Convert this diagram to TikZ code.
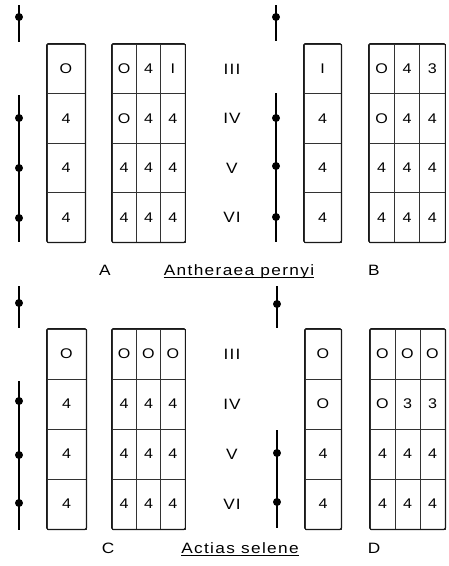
\documentclass[tikz,border=0pt]{standalone}
\usepackage{fontspec}
\setmainfont{Liberation Sans}
\newfontfamily\widefont[FakeStretch=1.15]{Liberation Sans}
\usetikzlibrary{calc}
\begin{document}
\begin{tikzpicture}[x=1pt,y=-1pt,
  cell/.style={draw=black!80, line width=0.9pt, inner sep=0pt, font=\widefont\fontsize{14}{14}\selectfont},
  outer/.style={draw=black!90, line width=1.1pt, rounded corners=1.5pt},
  axisline/.style={line width=2pt, black},
  dotnode/.style={circle, fill=black, inner sep=0pt, minimum size=8pt},
  roman/.style={font=\widefont\fontsize{15}{15}\selectfont\addfontfeature{LetterSpace=8}},
  plabel/.style={font=\widefont\fontsize{15}{15}\selectfont, anchor=base},
  species/.style={font=\widefont\fontsize{15}{15}\selectfont\addfontfeature{LetterSpace=9}, anchor=base, inner sep=0pt},
  uline/.style={line width=1pt}]
\useasboundingbox (0,0) rectangle (448,566);

% ---------- Panel A ----------
\foreach \r/\s/\a/\b/\c in {1/O/O/4/I,2/4/O/4/4,3/4/4/4/4,4/4/4/4/4}{
  \pgfmathsetmacro\yc{44+49.5*(\r-0.5)}
  \node[cell, minimum width=38pt, minimum height=49.5pt] (A-s\r) at (66,\yc) {\s};
  \node[cell, minimum width=24.33pt, minimum height=49.5pt] (A-a\r) at (124.17,\yc) {\a};
  \node[cell, minimum width=24.33pt, minimum height=49.5pt] (A-b\r) at (148.5,\yc) {\b};
  \node[cell, minimum width=24.33pt, minimum height=49.5pt] (A-c\r) at (172.83,\yc) {\c};
}
\draw[outer] (A-s1.north west) rectangle (A-s4.south east);
\draw[outer] (A-a1.north west) rectangle (A-c4.south east);
\coordinate (A-t1) at (19,5); \coordinate (A-t2) at (19,42);
\coordinate (A-m1) at (19,95); \coordinate (A-m2) at (19,242);
\draw[axisline] (A-t1) -- (A-t2);
\draw[axisline] (A-m1) -- (A-m2);
\node[dotnode] (A-d0) at (19,17) {};
\node[dotnode] (A-d1) at (19,118) {};
\node[dotnode] (A-d2) at (19,168) {};
\node[dotnode] (A-d3) at (19,218) {};

% ---------- Panel B ----------
\foreach \r/\s/\a/\b/\c in {1/I/O/4/3,2/4/O/4/4,3/4/4/4/4,4/4/4/4/4}{
  \pgfmathsetmacro\yc{44+49.5*(\r-0.5)}
  \node[cell, minimum width=37pt, minimum height=49.5pt] (B-s\r) at (322.5,\yc) {\s};
  \node[cell, minimum width=25.33pt, minimum height=49.5pt] (B-a\r) at (381.67,\yc) {\a};
  \node[cell, minimum width=25.33pt, minimum height=49.5pt] (B-b\r) at (407,\yc) {\b};
  \node[cell, minimum width=25.33pt, minimum height=49.5pt] (B-c\r) at (432.33,\yc) {\c};
}
\draw[outer] (B-s1.north west) rectangle (B-s4.south east);
\draw[outer] (B-a1.north west) rectangle (B-c4.south east);
\coordinate (B-t1) at (276,5); \coordinate (B-t2) at (276,41);
\coordinate (B-m1) at (276,93); \coordinate (B-m2) at (276,242);
\draw[axisline] (B-t1) -- (B-t2);
\draw[axisline] (B-m1) -- (B-m2);
\node[dotnode] (B-d0) at (276,17) {};
\node[dotnode] (B-d1) at (276,118) {};
\node[dotnode] (B-d2) at (276,166) {};
\node[dotnode] (B-d3) at (276,217) {};

% ---------- Panel C ----------
\foreach \r/\s/\a/\b/\c in {1/O/O/O/O,2/4/4/4/4,3/4/4/4/4,4/4/4/4/4}{
  \pgfmathsetmacro\yc{329+50*(\r-0.5)}
  \node[cell, minimum width=39pt, minimum height=50pt] (C-s\r) at (66.5,\yc) {\s};
  \node[cell, minimum width=24.33pt, minimum height=50pt] (C-a\r) at (124.17,\yc) {\a};
  \node[cell, minimum width=24.33pt, minimum height=50pt] (C-b\r) at (148.5,\yc) {\b};
  \node[cell, minimum width=24.33pt, minimum height=50pt] (C-c\r) at (172.83,\yc) {\c};
}
\draw[outer] (C-s1.north west) rectangle (C-s4.south east);
\draw[outer] (C-a1.north west) rectangle (C-c4.south east);
\coordinate (C-t1) at (19,286); \coordinate (C-t2) at (19,328);
\coordinate (C-m1) at (19,381); \coordinate (C-m2) at (19,530);
\draw[axisline] (C-t1) -- (C-t2);
\draw[axisline] (C-m1) -- (C-m2);
\node[dotnode] (C-d0) at (19,303) {};
\node[dotnode] (C-d1) at (19,401) {};
\node[dotnode] (C-d2) at (19,455) {};
\node[dotnode] (C-d3) at (19,503) {};

% ---------- Panel D ----------
\foreach \r/\s/\a/\b/\c in {1/O/O/O/O,2/O/O/3/3,3/4/4/4/4,4/4/4/4/4}{
  \pgfmathsetmacro\yc{329+50*(\r-0.5)}
  \node[cell, minimum width=36pt, minimum height=50pt] (D-s\r) at (323,\yc) {\s};
  \node[cell, minimum width=25pt, minimum height=50pt] (D-a\r) at (382.5,\yc) {\a};
  \node[cell, minimum width=25pt, minimum height=50pt] (D-b\r) at (407.5,\yc) {\b};
  \node[cell, minimum width=25pt, minimum height=50pt] (D-c\r) at (432.5,\yc) {\c};
}
\draw[outer] (D-s1.north west) rectangle (D-s4.south east);
\draw[outer] (D-a1.north west) rectangle (D-c4.south east);
\coordinate (D-t1) at (277,286); \coordinate (D-t2) at (277,328);
\coordinate (D-m1) at (277,430); \coordinate (D-m2) at (277,528);
\draw[axisline] (D-t1) -- (D-t2);
\draw[axisline] (D-m1) -- (D-m2);
\node[dotnode] (D-d0) at (277,304) {};
\node[dotnode] (D-d2) at (277,453) {};
\node[dotnode] (D-d3) at (277,502) {};

% ---------- Roman numerals ----------
\node[roman] (r1) at (232,69) {III};
\node[roman] (r2) at (232,118.5) {IV};
\node[roman] (r3) at (232,168) {V};
\node[roman] (r4) at (232,217.5) {VI};
\node[roman] (r5) at (232,354) {III};
\node[roman] (r6) at (232,404) {IV};
\node[roman] (r7) at (232,454) {V};
\node[roman] (r8) at (232,504) {VI};

% ---------- Labels ----------
\node[plabel] (labA) at (105,275) {A};
\node[plabel] (labB) at (374,275) {B};
\node[plabel] (labC) at (108,553) {C};
\node[plabel] (labD) at (374,553) {D};
\node[species] (sp1) at (239,275) {Antheraea pernyi};
\node[species] (sp2) at (240,553) {Actias selene};
\draw[uline] ($(sp1.base west)+(0,2.5)$) -- ($(sp1.base east)+(0,2.5)$);
\draw[uline] ($(sp2.base west)+(0,2.5)$) -- ($(sp2.base east)+(0,2.5)$);
\end{tikzpicture}
\end{document}
